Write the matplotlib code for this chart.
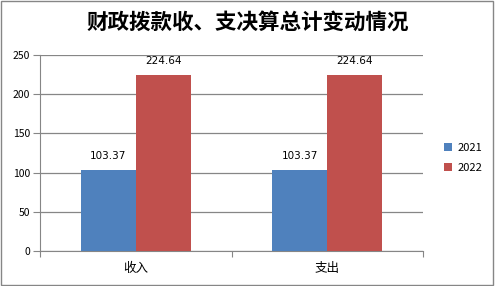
import matplotlib
matplotlib.use("Agg")
import matplotlib.pyplot as plt
from matplotlib.patches import Rectangle

plt.rcParams['font.family'] = ['Noto Sans CJK SC', 'DejaVu Sans']

categories = ["收入", "支出"]
years = ["2021", "2022"]
values_2021 = [103.37, 103.37]
values_2022 = [224.64, 224.64]
colors = ["#4F81BD", "#C0504D"]

fig = plt.figure(figsize=(4.95, 2.86), dpi=100)
ax = fig.add_axes([40 / 495, 1 - 251 / 286, 383 / 495, 196 / 286])

w = 0.287
xs = range(len(categories))
for i, (vals, c, lab) in enumerate([(values_2021, colors[0], years[0]), (values_2022, colors[1], years[1])]):
    pos = [x + (i - 0.5) * w for x in xs]
    ax.bar(pos, vals, width=w, color=c, label=lab, zorder=3)
    for p, v in zip(pos, vals):
        ax.annotate(f"{v:.2f}", (p, v), textcoords="offset points", xytext=(0, 8),
                    ha="center", fontsize=7.5, family="DejaVu Sans", color="#000000")

ax.set_xlim(-0.5, 1.5)
ax.set_ylim(0, 250)
ax.set_yticks([0, 50, 100, 150, 200, 250])
ax.yaxis.grid(True, color="#868686", lw=0.9, zorder=0)
ax.set_xticks([-0.5, 0.5, 1.5])
ax.set_xticklabels([])
ax.set_xticks(list(xs), minor=True)
ax.set_xticklabels(categories, minor=True, fontsize=9)
ax.tick_params(axis="x", which="minor", length=0, pad=8)
ax.tick_params(axis="x", which="major", length=4, color="#868686")
ax.tick_params(axis="y", length=5, color="#868686", labelsize=7.5, pad=2)
for s in ["top", "right"]:
    ax.spines[s].set_visible(False)
for s in ["left", "bottom"]:
    ax.spines[s].set_color("#868686")

ax.legend(loc="center left", bbox_to_anchor=(1.03, 0.475), frameon=False, fontsize=8,
          handlelength=0.7, handleheight=0.7, handletextpad=0.5, labelspacing=0.9)

fig.text(0.5, 1 - 22 / 286, "财政拨款收、支决算总计变动情况", ha="center", va="center",
         fontsize=15.5, fontweight="bold")
fig.patches.append(Rectangle((0.002, 0.003), 0.994, 0.993, transform=fig.transFigure,
                             fill=False, ec="#868686", lw=1))

fig.savefig("out.png", dpi=100)
